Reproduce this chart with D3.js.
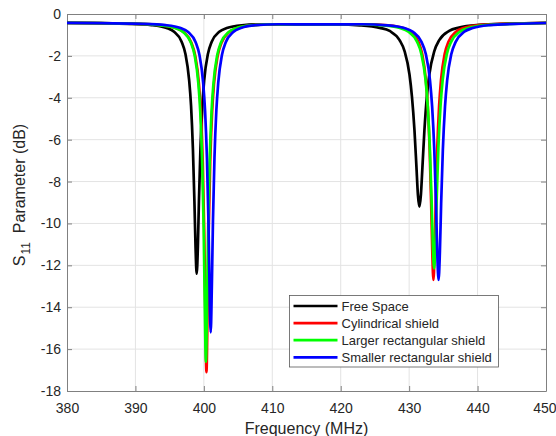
<!DOCTYPE html>
<html>
<head>
<meta charset="utf-8">
<script src="https://cdn.jsdelivr.net/npm/d3@7"></script>
<style>
  body { margin: 0; background: #fff; }
  text { font-family: "Liberation Sans", Arial, sans-serif; fill: #262626; }
</style>
</head>
<body>
<script>
// frequency (MHz) and S11 (dB)
var freqFree = [380, 384, 389.05, 392.35, 394.55, 395.65, 396.75, 397.30, 397.85, 398.13,
  398.40, 398.62, 398.79, 398.95, 399.12, 399.28, 399.50, 399.78, 400.05, 400.60,
  401.15, 402.25, 403.35, 405.55, 408.85, 414, 418.45, 422.8, 425.7, 427.15,
  428.6, 429.33, 430.05, 430.41, 430.78, 431.07, 431.28, 431.5, 431.72, 431.94,
  432.23, 432.59, 432.95, 433.68, 434.4, 435.85, 437.3, 440.2, 444.55, 450];
var s11Free = [-0.42, -0.44, -0.47, -0.53, -0.67, -0.85, -1.32, -1.90, -3.16, -4.39,
  -6.43, -8.94, -11.18, -12.40, -11.18, -8.94, -6.43, -4.39, -3.16, -1.90,
  -1.32, -0.85, -0.67, -0.54, -0.49, -0.50, -0.49, -0.54, -0.66, -0.81,
  -1.25, -1.77, -2.89, -3.94, -5.56, -7.32, -8.62, -9.20, -8.62, -7.32,
  -5.56, -3.94, -2.89, -1.77, -1.25, -0.81, -0.65, -0.52, -0.46, -0.42];

var freqCyl = [380, 385, 390.48, 393.78, 395.98, 397.08, 398.18, 398.73, 399.28, 399.555,
  399.83, 400.05, 400.215, 400.38, 400.545, 400.71, 400.93, 401.205, 401.48, 402.03,
  402.58, 403.68, 404.78, 406.98, 410.28, 416, 423.65, 426.95, 429.15, 430.25,
  431.35, 431.9, 432.45, 432.725, 433.0, 433.22, 433.385, 433.55, 433.715, 433.88,
  434.1, 434.375, 434.65, 435.2, 435.75, 436.85, 437.95, 440.15, 443.45, 450];
var s11Cyl = [-0.42, -0.44, -0.47, -0.54, -0.68, -0.87, -1.37, -1.98, -3.34, -4.69,
  -7.05, -10.32, -14.09, -17.10, -14.09, -10.32, -7.05, -4.69, -3.34, -1.98,
  -1.37, -0.87, -0.68, -0.54, -0.49, -0.50, -0.49, -0.54, -0.67, -0.85,
  -1.33, -1.90, -3.18, -4.42, -6.49, -9.06, -11.40, -12.70, -11.40, -9.06,
  -6.49, -4.42, -3.18, -1.90, -1.33, -0.85, -0.67, -0.53, -0.47, -0.43];

var freqLarge = [380, 385, 390.4, 393.7, 395.9, 397.0, 398.1, 398.65, 399.2, 399.475,
  399.75, 399.97, 400.135, 400.3, 400.465, 400.63, 400.85, 401.125, 401.4, 401.95,
  402.5, 403.6, 404.7, 406.9, 410.2, 416, 422.4, 426.15, 428.65, 429.9,
  431.15, 431.775, 432.4, 432.71, 433.025, 433.275, 433.46, 433.65, 433.84, 434.025,
  434.275, 434.59, 434.9, 435.525, 436.15, 437.4, 438.65, 441.15, 444.9, 450];
var s11Large = [-0.42, -0.44, -0.47, -0.54, -0.68, -0.87, -1.36, -1.97, -3.33, -4.67,
  -7.01, -10.22, -13.83, -16.60, -13.83, -10.22, -7.01, -4.67, -3.33, -1.97,
  -1.36, -0.87, -0.68, -0.54, -0.49, -0.50, -0.49, -0.54, -0.67, -0.85,
  -1.32, -1.89, -3.15, -4.37, -6.38, -8.83, -10.99, -12.15, -10.99, -8.83,
  -6.38, -4.37, -3.15, -1.89, -1.32, -0.85, -0.67, -0.53, -0.47, -0.43];

var freqSmall = [380, 385, 391.1, 394.4, 396.6, 397.7, 398.8, 399.35, 399.9, 400.175,
  400.45, 400.67, 400.835, 401.0, 401.165, 401.33, 401.55, 401.825, 402.1, 402.65,
  403.2, 404.3, 405.4, 407.6, 410.9, 416, 423.05, 426.8, 429.3, 430.55,
  431.8, 432.425, 433.05, 433.36, 433.675, 433.925, 434.11, 434.3, 434.49, 434.675,
  434.925, 435.24, 435.55, 436.175, 436.8, 438.05, 439.3, 441.8, 445.55, 450];
var s11Small = [-0.42, -0.44, -0.47, -0.53, -0.67, -0.86, -1.35, -1.95, -3.29, -4.61,
  -6.87, -9.88, -13.05, -15.20, -13.05, -9.88, -6.87, -4.61, -3.29, -1.95,
  -1.35, -0.86, -0.67, -0.53, -0.49, -0.50, -0.49, -0.54, -0.67, -0.85,
  -1.33, -1.90, -3.18, -4.42, -6.49, -9.06, -11.40, -12.70, -11.40, -9.06,
  -6.49, -4.42, -3.18, -1.90, -1.33, -0.85, -0.67, -0.53, -0.47, -0.43];

var seriesNames = ['Free Space', 'Cylindrical shield', 'Larger rectangular shield', 'Smaller rectangular shield'];
var seriesColors = ['#000000', '#ff0000', '#00ff00', '#0000ff'];
var xTicks = [380, 390, 400, 410, 420, 430, 440, 450];
var yTicks = [0, -2, -4, -6, -8, -10, -12, -14, -16, -18];

var series = [
  { name: seriesNames[0], color: seriesColors[0], f: freqFree, v: s11Free },
  { name: seriesNames[1], color: seriesColors[1], f: freqCyl, v: s11Cyl },
  { name: seriesNames[2], color: seriesColors[2], f: freqLarge, v: s11Large },
  { name: seriesNames[3], color: seriesColors[3], f: freqSmall, v: s11Small }
];

var margin = {top: 14, right: 10, bottom: 45, left: 67};
var width = 556 - margin.left - margin.right;
var height = 436 - margin.top - margin.bottom;

var x = d3.scaleLinear().domain([380, 450]).range([0, width]);
var y = d3.scaleLinear().domain([-18, 0]).range([height, 0]);

var svg = d3.select('body').append('svg')
  .attr('width', 556)
  .attr('height', 436)
  .append('g')
  .attr('transform', 'translate(' + margin.left + ',' + margin.top + ')');

// grid
svg.append('g').selectAll('line')
  .data(xTicks.slice(1, -1))
  .enter().append('line')
  .attr('x1', function(d) { return x(d); }).attr('x2', function(d) { return x(d); })
  .attr('y1', 0).attr('y2', height)
  .attr('stroke', '#e3e3e3').attr('stroke-width', 1);
svg.append('g').selectAll('line')
  .data(yTicks.slice(1, -1))
  .enter().append('line')
  .attr('y1', function(d) { return y(d); }).attr('y2', function(d) { return y(d); })
  .attr('x1', 0).attr('x2', width)
  .attr('stroke', '#e3e3e3').attr('stroke-width', 1);

// axes with inward ticks, plain hyphen for negatives
var plain = function(d) { return String(d); };
var axStyle = function(g) {
  g.select('.domain').attr('stroke', '#808080');
  g.selectAll('.tick line').attr('stroke', '#808080');
  g.selectAll('.tick text').attr('font-size', 14).attr('fill', '#262626');
};

var xAxis = svg.append('g')
  .attr('transform', 'translate(0,' + height + ')')
  .call(d3.axisBottom(x).tickValues(xTicks).tickFormat(plain).tickSizeInner(-5).tickSizeOuter(0).tickPadding(12))
  .call(axStyle);
// last label sits at the window edge
xAxis.selectAll('.tick text').filter(function(d) { return d === 450; })
  .attr('text-anchor', 'end').attr('dx', 10);

svg.append('g')
  .call(d3.axisTop(x).tickValues(xTicks).tickSizeInner(-5).tickSizeOuter(0).tickFormat(''))
  .call(axStyle);
svg.append('g')
  .call(d3.axisLeft(y).tickValues(yTicks).tickFormat(plain).tickSizeInner(-5).tickSizeOuter(0).tickPadding(6))
  .call(axStyle);
svg.append('g')
  .attr('transform', 'translate(' + width + ',0)')
  .call(d3.axisRight(y).tickValues(yTicks).tickSizeInner(-5).tickSizeOuter(0).tickFormat(''))
  .call(axStyle);

// curves
var line = d3.line()
  .x(function(d) { return x(d[0]); })
  .y(function(d) { return y(d[1]); })
  .curve(d3.curveMonotoneX);

svg.selectAll('.curve')
  .data(series)
  .enter().append('path')
  .attr('class', 'curve')
  .attr('fill', 'none')
  .attr('stroke', function(d) { return d.color; })
  .attr('stroke-width', 2.7)
  .attr('stroke-linejoin', 'round')
  .attr('d', function(d) { return line(d.f.map(function(f, i) { return [f, d.v[i]]; })); });

// axis labels
svg.append('text')
  .attr('x', width / 2)
  .attr('y', height + 43)
  .attr('text-anchor', 'middle')
  .attr('font-size', 16)
  .text('Frequency (MHz)');

var yl = svg.append('text')
  .attr('transform', 'translate(' + (25 - margin.left) + ',' + (195 - margin.top) + ') rotate(-90)')
  .attr('text-anchor', 'middle')
  .attr('font-size', 16);
yl.append('tspan').text('S');
yl.append('tspan').attr('font-size', 12).attr('dy', 5).attr('dx', 1).text('11');
yl.append('tspan').attr('dy', -5).text('\u00a0 Parameter (dB)');

// legend
var lg = svg.append('g').attr('transform', 'translate(' + (289.5 - margin.left) + ',' + (295.5 - margin.top) + ')');
lg.append('rect')
  .attr('width', 209).attr('height', 71.5)
  .attr('fill', '#fff').attr('stroke', '#595959').attr('stroke-width', 0.8);
var rows = lg.selectAll('.row')
  .data(series)
  .enter().append('g')
  .attr('transform', function(d, i) { return 'translate(0,' + (10.5 + i * 17.1) + ')'; });
rows.append('line')
  .attr('x1', 4).attr('x2', 48)
  .attr('stroke', function(d) { return d.color; })
  .attr('stroke-width', 2.7);
rows.append('text')
  .attr('x', 52).attr('y', 4.6)
  .attr('font-size', 13)
  .text(function(d) { return d.name; });
</script>
</body>
</html>
